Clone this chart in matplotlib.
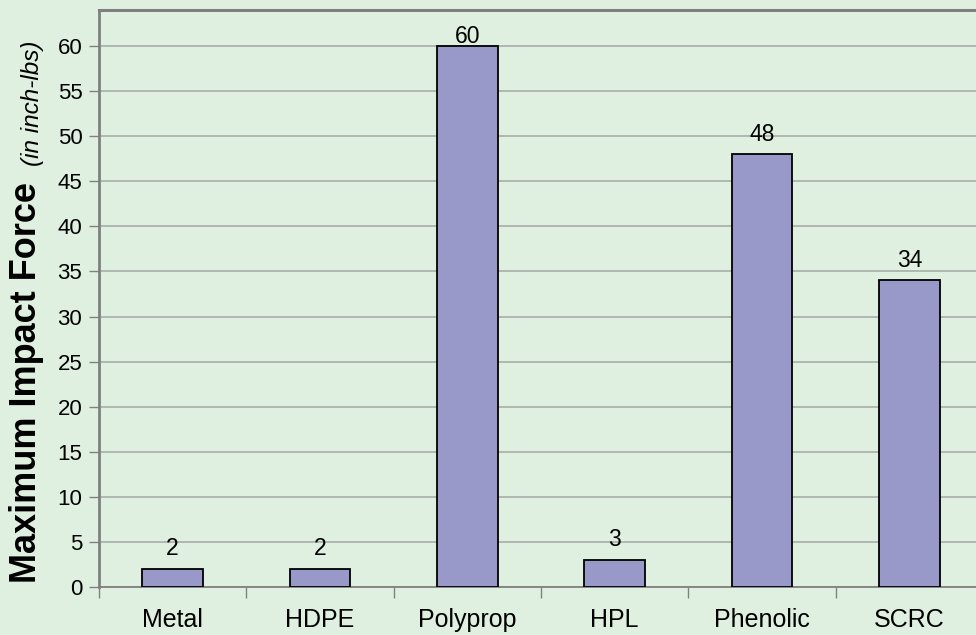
import matplotlib
matplotlib.use("Agg")
import matplotlib.pyplot as plt
import numpy as np

# ── Data ──────────────────────────────────────────────────────────────────────
materials = ["Metal", "HDPE", "Polyprop", "HPL", "Phenolic", "SCRC"]
impact    = [2, 2, 60, 3, 48, 34]

BG   = "#E0F0E0"
BAR  = "#9898C9"
GRID = "#A3A8A3"
AXIS = "#808080"
YMAX = 64

plt.rcParams['font.family'] = ['Liberation Sans', 'DejaVu Sans']

fig = plt.figure(figsize=(9.76, 6.35), dpi=100, facecolor=BG)
ax = fig.add_axes([99/976, 1 - 586.7/635, 884/976, (586.7 - 10.3)/635])
ax.set_facecolor(BG)

x = np.arange(len(materials))
bars = ax.bar(x, impact, width=0.41, color=BAR, edgecolor="black", linewidth=1.3, zorder=3)

# value labels above bars (pulled in when close to the top, like Excel does)
for b, v in zip(bars, impact):
    off = 2.2 if v > 0.9 * YMAX else 10
    ax.annotate(f"{v}", (b.get_x() + b.get_width()/2, b.get_height()),
                xytext=(0, off), textcoords="offset points",
                ha="center", va="baseline", fontsize=16.5, zorder=4)

ax.set_xlim(-0.5, len(materials) - 0.5)
ax.set_ylim(0, YMAX)
ax.set_yticks(np.arange(0, 61, 5))
ax.yaxis.grid(True, color=GRID, linewidth=1.1, zorder=0)

# category labels centered, tick marks on category boundaries
ax.set_xticks(x)
ax.set_xticklabels(materials, fontsize=18)
ax.tick_params(axis="x", length=0, pad=15)
ax.set_xticks(np.arange(-0.5, len(materials), 1), minor=True)
ax.tick_params(axis="x", which="minor", length=8, color=AXIS, width=1)
ax.tick_params(axis="y", length=7, color=AXIS, width=1, labelsize=16, pad=5)

for side in ["left", "top", "bottom"]:
    ax.spines[side].set_color(AXIS)
ax.spines["left"].set_linewidth(2)
ax.spines["top"].set_linewidth(2.2)
ax.spines["bottom"].set_linewidth(1.3)
ax.spines["right"].set_visible(False)

# y axis title in two styles
fig.text(27/976, 1 - 583/635, "Maximum Impact Force", rotation=90,
         ha="center", va="bottom", fontsize=26, fontweight="bold")
fig.text(33/976, 1 - 166/635, "(in inch-lbs)", rotation=90,
         ha="center", va="bottom", fontsize=17.5, fontstyle="italic")

fig.savefig("out.png", dpi=100, facecolor=BG)
